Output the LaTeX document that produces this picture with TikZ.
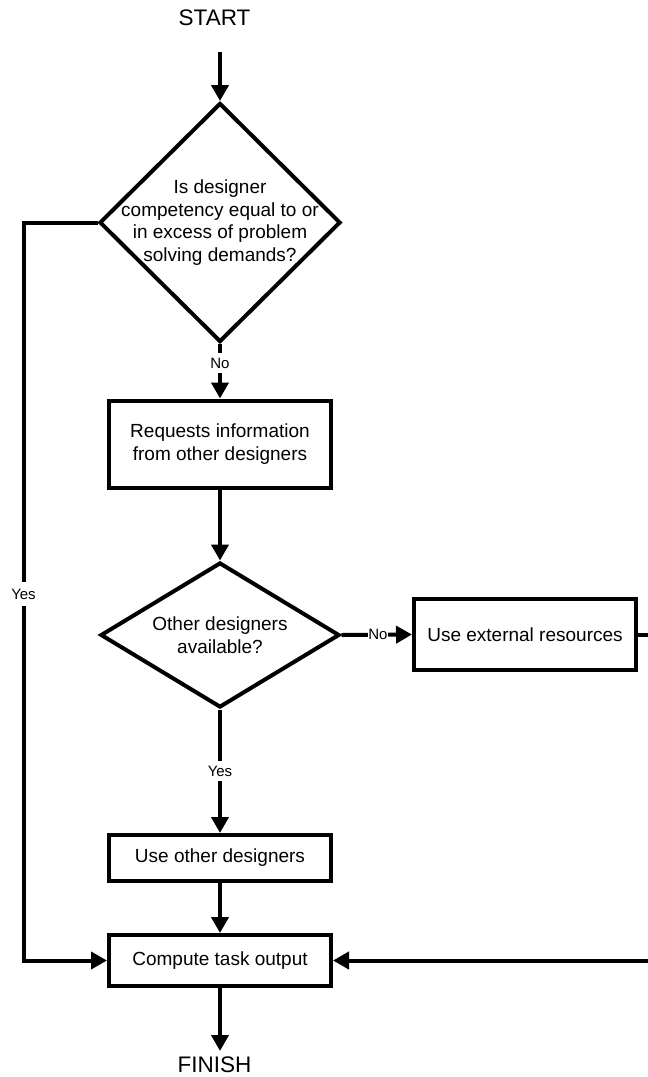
\documentclass[tikz,border=0pt]{standalone}
\usepackage{fontspec}
\setmainfont{Liberation Sans}
\usetikzlibrary{arrows.meta,shapes.geometric}
\begin{document}
\begin{tikzpicture}[x=1pt,y=-1pt,
  every node/.style={font=\fontsize{19}{22.7}\selectfont},
  ln/.style={line width=4pt},
  arr/.style={ln,-{Triangle[length=16pt,width=17pt]}},
  boxn/.style={draw,line width=4pt,rectangle,minimum width=222pt,inner sep=0pt,align=center},
  dia/.style={draw,line width=4pt,diamond,inner sep=0pt},
  txt/.style={align=center,inner sep=0pt},
  lbl/.style={fill=white,font=\fontsize{15}{18}\selectfont,inner xsep=0.5pt,inner ysep=5pt},
  big/.style={font=\fontsize{22.5}{27}\selectfont,inner sep=0pt}]
\useasboundingbox (0,0) rectangle (648,1077);

% nodes
\node[big] (start) at (214.5,18) {START};
\coordinate (s0) at (220,52);
\node[dia,minimum width=241pt,minimum height=239pt] (d1) at (220,222.5) {};
\node[txt] (d1t) at (d1.center) {Is designer\\competency equal to or\\in excess of problem\\solving demands?};
\node[boxn,minimum height=87pt] (b1) at (220,444) {Requests information\\from other designers};
\node[dia,minimum width=239pt,minimum height=145pt] (d2) at (220,635) {};
\node[txt] (d2t) at (d2.center) {Other designers\\available?};
\node[boxn,minimum height=71pt] (ext) at (525,634.5) {Use external resources};
\node[boxn,minimum height=46pt] (b2) at (220,858) {Use other designers};
\node[boxn,minimum height=51pt] (b3) at (220,960.5) {Compute task output};
\coordinate (f0) at (220,1051);
\node[big] (finish) at (214.5,1065) {FINISH};
\coordinate (lx) at (23.5,0);
\coordinate (rx) at (664,0);

% connectors
\draw[arr] (s0) -- (d1.north);
\draw[arr] (d1.south) -- (b1.north);
\draw[arr] (b1.south) -- (d2.north);
\draw[arr] (d2.east) -- (ext.west);
\draw[arr] (d2.south) -- (b2.north);
\draw[arr] (b2.south) -- (b3.north);
\draw[arr] (b3.south) -- (f0);
\draw[arr] (d1.west) -- (d1.west -| lx) -- (b3.west -| lx) -- (b3.west);
\draw[arr] (ext.east) -- (ext.east -| rx) -- (b3.east -| rx) -- (b3.east);

% labels
\node[lbl] (no1) at (220,363) {No};
\node[lbl] (no2) at (378,634.5) {No};
\node[lbl] (yes1) at (220,771) {Yes};
\node[lbl,inner ysep=7pt] (yes2) at (23.5,594) {Yes};
\end{tikzpicture}
\end{document}
